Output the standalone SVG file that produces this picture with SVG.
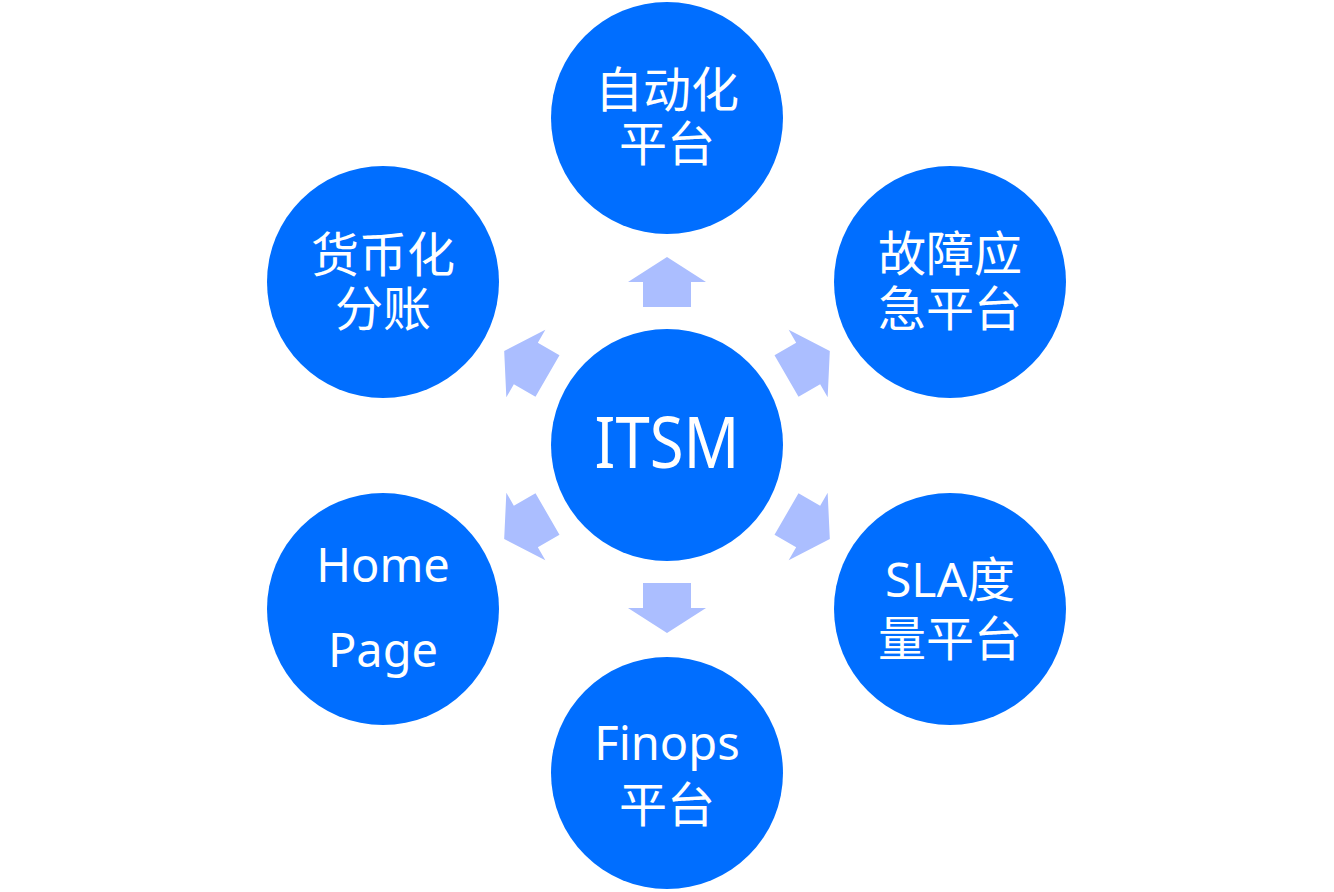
<svg xmlns="http://www.w3.org/2000/svg" width="1334" height="892" viewBox="0 0 1334 892">
<defs>
<style>
.node{fill:#006EFF;}
.arr{fill:#ABBEFF;}
text{fill:#FFFFFF;font-family:"Noto Sans","Noto Sans CJK SC",sans-serif;font-size:48px;text-anchor:middle;}
.lat{font-size:47px;}
</style>
<path id="a" d="M138,-24 L163,-24 L163,-39 L188,0 L163,39 L163,24 L138,24 Z"/>
</defs>
<rect width="1334" height="892" fill="#FFFFFF"/>
<g id="connectors">
<use href="#a" class="arr" transform="translate(667,445) rotate(-90)"/>
<use href="#a" class="arr" transform="translate(667,445) rotate(90)"/>
<use href="#a" class="arr" transform="translate(667,445) rotate(-30)"/>
<use href="#a" class="arr" transform="translate(667,445) rotate(30)"/>
<use href="#a" class="arr" transform="translate(667,445) rotate(150)"/>
<use href="#a" class="arr" transform="translate(667,445) rotate(210)"/>
</g>
<g id="itsm">
<circle class="node" cx="667" cy="445" r="116"/>
<text x="667" y="468" style="font-size:72px" textLength="145" lengthAdjust="spacingAndGlyphs">ITSM</text>
</g>
<g id="automation">
<circle class="node" cx="667" cy="118" r="116"/>
<text><tspan x="667" y="107">自动化</tspan><tspan x="667" y="161">平台</tspan></text>
</g>
<g id="incident">
<circle class="node" cx="950" cy="282" r="116"/>
<text><tspan x="950" y="271">故障应</tspan><tspan x="950" y="326">急平台</tspan></text>
</g>
<g id="sla">
<circle class="node" cx="950" cy="609" r="116"/>
<text><tspan x="950" y="597">SLA度</tspan><tspan x="950" y="656">量平台</tspan></text>
</g>
<g id="finops">
<circle class="node" cx="667" cy="773" r="116"/>
<text><tspan x="667" y="760" class="lat">Finops</tspan><tspan x="667" y="822">平台</tspan></text>
</g>
<g id="homepage">
<circle class="node" cx="383" cy="609" r="116"/>
<text class="lat"><tspan x="383" y="582">Home</tspan><tspan x="383" y="667">Page</tspan></text>
</g>
<g id="billing">
<circle class="node" cx="383" cy="282" r="116"/>
<text><tspan x="383" y="272">货币化</tspan><tspan x="383" y="326">分账</tspan></text>
</g>
</svg>
